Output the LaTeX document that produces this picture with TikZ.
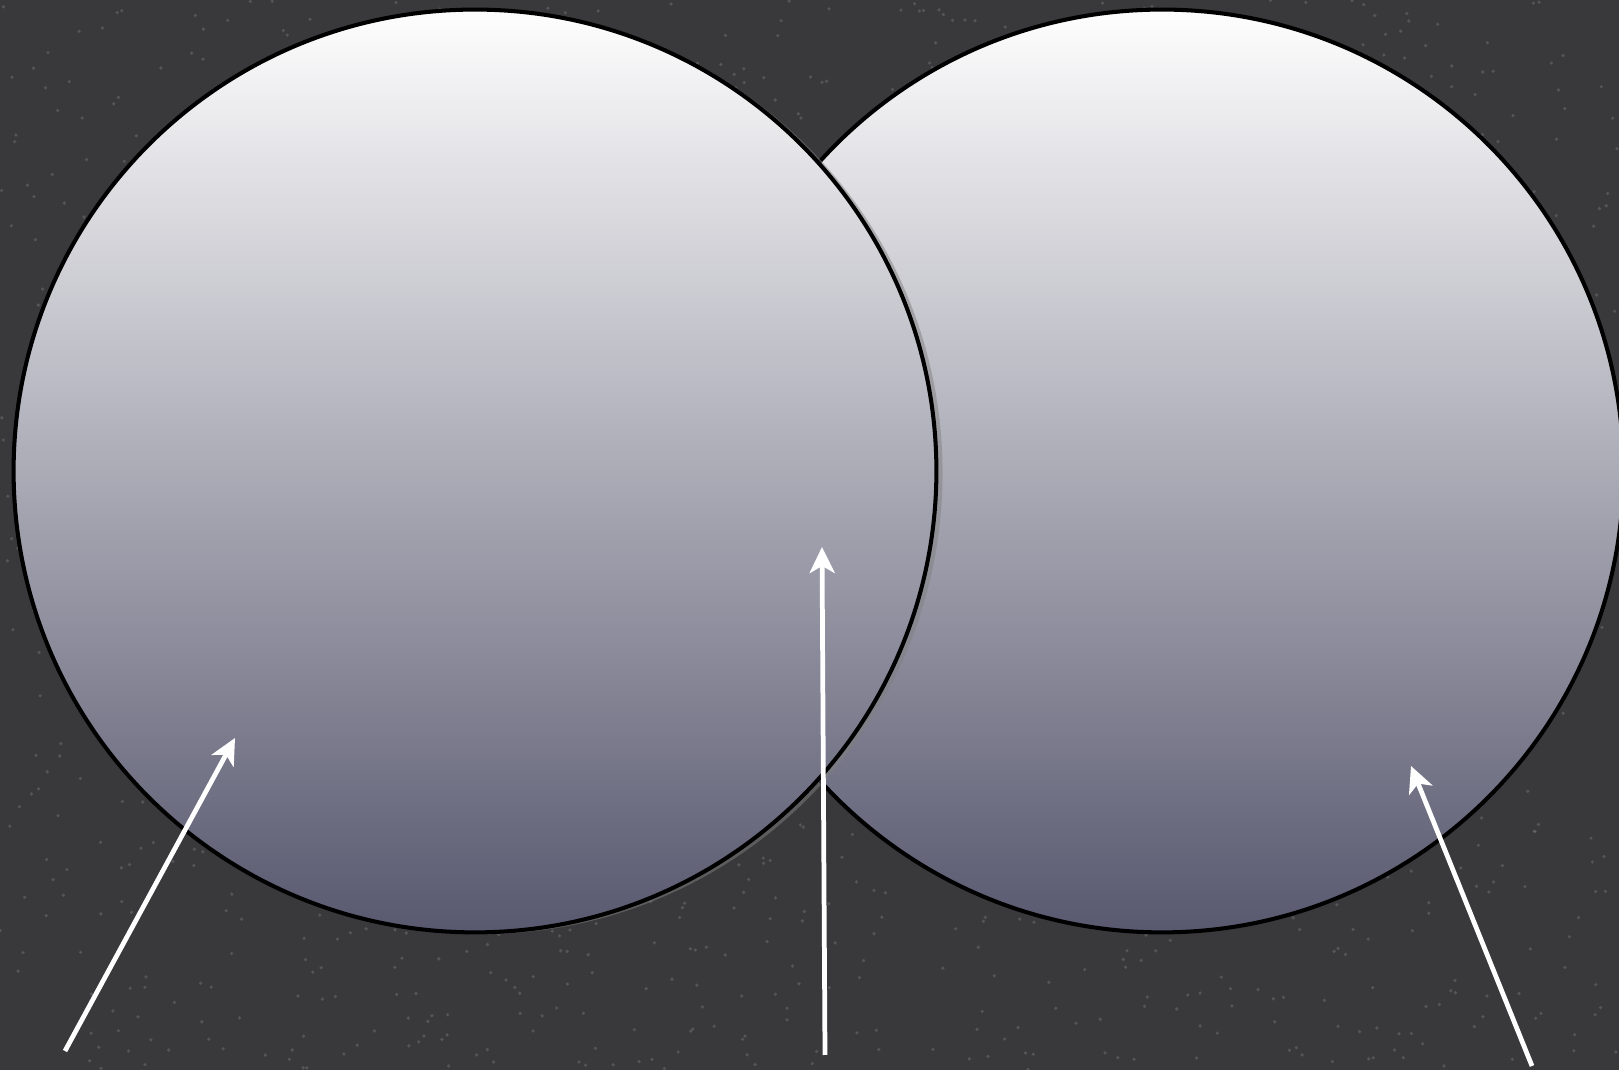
\documentclass[tikz,border=0pt]{standalone}
\usetikzlibrary{arrows.meta,shadows}

\definecolor{bgdark}{HTML}{39393B}
\definecolor{speck}{HTML}{8A8A8C}
\definecolor{disctop}{HTML}{FEFEFE}
\definecolor{discbot}{HTML}{58586F}

\begin{document}
\begin{tikzpicture}[
    x=0.02cm, y=0.02cm,
    disc/.style={
        circle, draw=black, line width=2.3pt,
        minimum size=18.46cm, inner sep=0pt,
        top color=disctop, bottom color=discbot
    },
    pointer/.style={
        draw=white, line width=2.7pt,
        -{Stealth[length=5.2mm,width=5mm,inset=1.4mm]}
    }
]

% Background
\useasboundingbox (0,0) rectangle (1619,1070);
\fill[bgdark] (0,0) rectangle (1619,1070);
\pgfmathsetseed{7}
\foreach \i in {1,...,1600}
    \fill[speck, opacity=0.35] (rnd*1619, rnd*1070) circle (1.8);

% Discs (left one lies on top)
\node[disc] (rightdisc) at (1162,599) {};
\node[disc, drop shadow={shadow xshift=3.5pt, shadow yshift=-1pt, opacity=0.5}] (leftdisc) at (475,599) {};

% Arrow ends
\coordinate (tailA) at (65,19);
\coordinate (headA) at (235,332);
\coordinate (tailB) at (825,15);
\coordinate (headB) at (822,523);
\coordinate (tailC) at (1532,4);
\coordinate (headC) at (1411,304);

% Arrows
\draw[pointer] (tailA) -- (headA);
\draw[pointer] (tailB) -- (headB);
\draw[pointer] (tailC) -- (headC);

\end{tikzpicture}
\end{document}
